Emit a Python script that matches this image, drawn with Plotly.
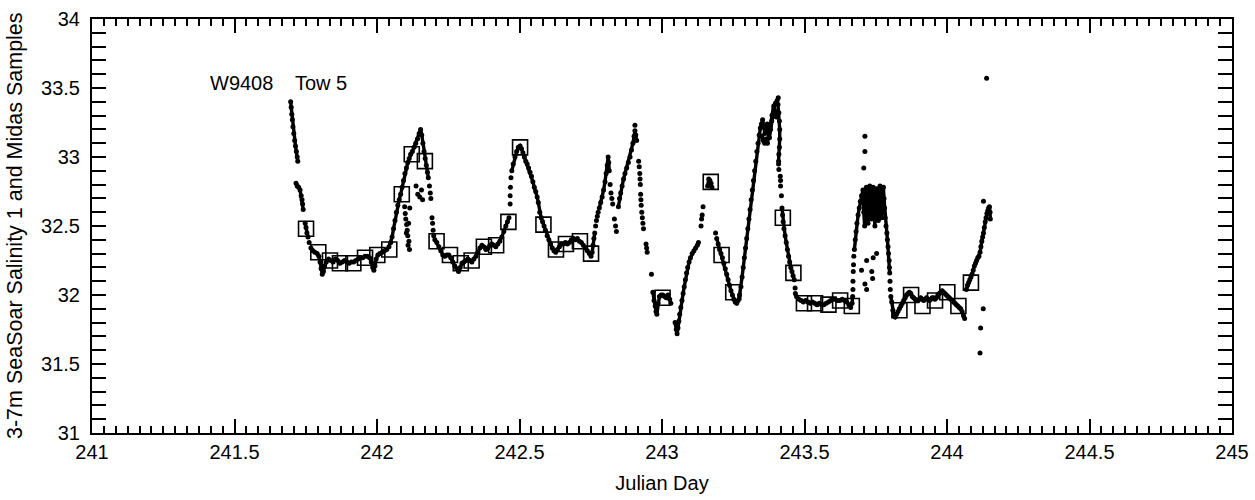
import plotly.graph_objects as go

# ---- SeaSoar salinity (continuous tow segments; None = gap) ----
seasoar_day = [
    241.697, 241.699, 241.701, 241.703, 241.705, 241.708, 241.711, 241.714, 241.717, 241.720, 241.722, None,
    241.716, 241.720, 241.725, 241.730, 241.734, 241.737, 241.739, 241.741, None,
    241.748, 241.751, 241.754, 241.758, None,
    241.768, 241.775, 241.782, 241.790, 241.796, 241.800, 241.804, 241.808, 241.812, 241.816,
    241.822, 241.830, 241.838, 241.846, 241.854, 241.862, 241.870, 241.878, 241.886, 241.894,
    241.902, 241.910, 241.918, 241.926, 241.934, 241.942, 241.950, 241.958, 241.966, 241.974,
    241.980, 241.985, 241.989, 241.993, 241.997, 242.003, 242.010, 242.018, 242.026, 242.034,
    242.042, 242.048, 242.053, 242.058, 242.063, 242.068, 242.073, 242.078, 242.083, 242.088,
    242.093, 242.098, 242.103, 242.108, 242.113, 242.118, 242.124, 242.130, 242.136, 242.142,
    242.148, 242.153, 242.157, 242.161, 242.165, 242.169, 242.173, 242.177, 242.180, None,
    242.203, 242.210, 242.217, 242.224, 242.231, 242.238, 242.245, 242.252, 242.259, 242.266,
    242.273, 242.280, 242.286, 242.292, 242.298, 242.305, 242.312, 242.319, 242.326, 242.333,
    242.340, 242.347, 242.354, 242.361, 242.368, 242.375, 242.382, 242.389, 242.396, 242.403,
    242.410, 242.417, 242.424, 242.431, 242.438, 242.445, 242.452, 242.458, 242.463, None,
    242.473, 242.478, 242.484, 242.490, 242.496, 242.502, 242.507, 242.512, 242.517, 242.522,
    242.527, 242.532, 242.537, 242.542, 242.547, 242.552, 242.557, 242.562, 242.566, 242.571,
    242.576, 242.581, 242.586, 242.591, 242.597, 242.603, 242.609, 242.615, 242.621, 242.627,
    242.633, 242.640, 242.647, 242.654, 242.661, 242.668, 242.675, 242.682, 242.689, 242.696,
    242.703, 242.710, 242.717, 242.724, 242.731, 242.738, 242.745, 242.751, 242.755, 242.758,
    242.761, 242.764, None,
    242.780, 242.785, 242.790, 242.795, 242.800, 242.804, 242.808, 242.811, 242.813, 242.815, None,
    242.847, 242.851, 242.855, 242.860, 242.865, 242.870, 242.876, 242.882, 242.888, 242.893,
    242.898, 242.902, 242.905, 242.908, 242.911, None,
    242.968, 242.972, 242.976, 242.979, 242.982, 242.986, 242.991, 242.997, 243.003, 243.009,
    243.015, 243.021, 243.027, 243.031, None,
    243.046, 243.050, 243.053, 243.056, 243.059, 243.062, 243.066, 243.070, 243.074, 243.078,
    243.082, 243.086, 243.090, 243.095, 243.100, 243.106, 243.112, 243.118, 243.124, 243.128, None,
    243.160, 243.164, 243.168, 243.172, 243.175, None,
    243.192, 243.197, 243.202, 243.207, 243.212, 243.217, 243.222, 243.227, 243.232, 243.237,
    243.242, 243.247, 243.252, 243.257, 243.262, 243.267, 243.272, 243.277, 243.281, 243.285,
    243.289, 243.293, 243.297, 243.301, 243.305, 243.309, 243.313, 243.317, 243.321, 243.325,
    243.329, 243.333, 243.337, 243.341, 243.345, 243.349, 243.353, 243.357, 243.361, 243.365,
    243.369, 243.373, 243.377, 243.381, 243.385, 243.389, 243.393, 243.397, 243.401, None,
    243.350, 243.355, 243.360, 243.365, 243.370, 243.375, 243.380, 243.386, 243.392, 243.398, 243.404, None,
    243.407, 243.410, 243.412, 243.413, 243.413, 243.412, 243.410, 243.409, None,
    243.421, 243.423, 243.425, 243.428, 243.432, 243.436, 243.440, 243.444, 243.448, 243.452,
    243.456, 243.460, 243.464, None,
    243.472, 243.480, 243.488, 243.496, 243.504, 243.512, 243.520, 243.528, 243.536, 243.544,
    243.552, 243.560, 243.568, 243.576, 243.584, 243.592, 243.600, 243.608, 243.616, 243.624,
    243.632, 243.640, 243.648, 243.656, 243.662, 243.667, 243.669, None,
    243.675, 243.678, 243.681, 243.684, 243.688, 243.692, 243.696, 243.700, 243.705, 243.708,
    243.711, 243.714, 243.717, 243.720, 243.723, 243.726, 243.729, 243.732, 243.735, 243.738,
    243.741, 243.744, 243.747, 243.750, 243.753, 243.756, 243.759, 243.762, 243.765, 243.768,
    243.771, 243.774, 243.777, 243.779, 243.781, 243.783, 243.786, 243.789, 243.791, 243.793,
    243.795, 243.797, 243.798, 243.799, None,
    243.803, 243.806, 243.810, 243.814, 243.818, 243.823, 243.828, 243.833, 243.838, 243.843,
    243.848, 243.853, 243.858, 243.863, 243.868, 243.873, 243.878, 243.883, 243.888, 243.893,
    243.898, 243.903, 243.908, 243.913, 243.918, 243.923, 243.928, 243.933, 243.938, 243.943,
    243.948, 243.953, 243.958, 243.963, 243.968, 243.973, 243.978, 243.983, 243.988, 243.993,
    243.998, 244.003, 244.008, 244.013, 244.018, 244.023, 244.028, 244.033, 244.038, 244.043,
    244.048, 244.053, 244.058, 244.062, None,
    244.068, 244.072, 244.076, 244.080, 244.084, 244.088, 244.092, 244.096, 244.100, 244.104,
    244.108, 244.112, 244.116, 244.119, 244.122, 244.125, 244.128, 244.131, 244.134, 244.137,
    244.140, 244.143, 244.146, 244.149, 244.151, 244.152,
]
seasoar_sal = [
    33.40, 33.36, 33.31, 33.27, 33.22, 33.17, 33.12, 33.08, 33.04, 33.00, 32.97, None,
    32.81, 32.79, 32.78, 32.76, 32.72, 32.69, 32.66, 32.62, None,
    32.52, 32.49, 32.45, 32.42, None,
    32.34, 32.32, 32.31, 32.30, 32.28, 32.24, 32.19, 32.15, 32.17, 32.21,
    32.24, 32.26, 32.25, 32.24, 32.26, 32.25, 32.23, 32.24, 32.25, 32.24,
    32.23, 32.24, 32.24, 32.25, 32.26, 32.27, 32.27, 32.28, 32.28, 32.27,
    32.24, 32.20, 32.18, 32.21, 32.26, 32.29, 32.30, 32.31, 32.32, 32.33,
    32.35, 32.38, 32.42, 32.48, 32.54, 32.60, 32.65, 32.69, 32.73, 32.78,
    32.83, 32.88, 32.92, 32.96, 32.99, 33.02, 33.04, 33.07, 33.10, 33.13,
    33.17, 33.20, 33.16, 33.10, 33.04, 32.99, 32.94, 32.89, 32.85, None,
    32.40, 32.38, 32.35, 32.32, 32.29, 32.28, 32.29, 32.29, 32.27, 32.24,
    32.21, 32.19, 32.17, 32.20, 32.23, 32.24, 32.25, 32.26, 32.25, 32.24,
    32.26, 32.28, 32.31, 32.34, 32.36, 32.35, 32.33, 32.34, 32.36, 32.37,
    32.36, 32.35, 32.37, 32.39, 32.42, 32.46, 32.50, 32.53, 32.56, None,
    32.90, 32.95, 33.00, 33.04, 33.07, 33.08, 33.06, 33.03, 33.00, 32.97,
    32.95, 32.92, 32.89, 32.86, 32.82, 32.78, 32.75, 32.71, 32.67, 32.60,
    32.56, 32.53, 32.50, 32.47, 32.43, 32.40, 32.37, 32.34, 32.32, 32.31,
    32.33, 32.35, 32.37, 32.37, 32.38, 32.37, 32.38, 32.40, 32.41, 32.40,
    32.41, 32.39, 32.38, 32.36, 32.34, 32.32, 32.30, 32.28, 32.31, 32.36,
    32.41, 32.45, None,
    32.63, 32.67, 32.71, 32.76, 32.82, 32.88, 32.94, 33.00, 32.96, 32.90, None,
    32.64, 32.70, 32.74, 32.79, 32.84, 32.88, 32.92, 32.96, 33.00, 33.05,
    33.10, 33.15, 33.19, 33.16, 33.12, None,
    32.02, 31.96, 31.92, 31.88, 31.86, 31.94, 31.99, 32.00, 32.00, 31.99,
    31.98, 32.00, 31.97, 31.94, None,
    31.80, 31.75, 31.72, 31.76, 31.81, 31.86, 31.91, 31.96, 32.01, 32.06,
    32.11, 32.16, 32.20, 32.24, 32.27, 32.30, 32.32, 32.34, 32.36, 32.38, None,
    32.79, 32.84, 32.83, 32.81, 32.78, None,
    32.41, 32.37, 32.33, 32.30, 32.27, 32.23, 32.19, 32.15, 32.11, 32.07,
    32.03, 32.00, 31.97, 31.95, 31.94, 31.96, 32.00, 32.06, 32.13, 32.20,
    32.27, 32.34, 32.41, 32.48, 32.55, 32.62, 32.69, 32.76, 32.83, 32.90,
    32.97, 33.04, 33.10, 33.16, 33.21, 33.24, 33.27, 33.22, 33.17, 33.20,
    33.24, 33.19, 33.14, 33.20, 33.26, 33.31, 33.35, 33.33, 33.29, None,
    33.15, 33.12, 33.10, 33.13, 33.10, 33.18, 33.22, 33.30, 33.37, 33.39, 33.41, None,
    33.38, 33.32, 33.26, 33.20, 33.13, 33.07, 33.02, 32.97, None,
    32.63, 32.58, 32.53, 32.48, 32.43, 32.38, 32.33, 32.28, 32.24, 32.20,
    32.17, 32.14, 32.11, None,
    31.99, 31.97, 31.96, 31.95, 31.96, 31.95, 31.94, 31.95, 31.94, 31.93,
    31.94, 31.93, 31.93, 31.94, 31.95, 31.96, 31.97, 31.97, 31.96, 31.96,
    31.97, 31.96, 31.95, 31.93, 31.91, 31.94, 31.99, None,
    32.33, 32.40, 32.46, 32.52, 32.58, 32.63, 32.68, 32.72, 32.76, 32.60,
    32.50, 32.68, 32.78, 32.62, 32.52, 32.70, 32.79, 32.64, 32.55, 32.72,
    32.78, 32.60, 32.50, 32.66, 32.77, 32.63, 32.54, 32.70, 32.79, 32.66,
    32.56, 32.72, 32.78, 32.70, 32.63, 32.56, 32.50, 32.45, 32.40, 32.35,
    32.30, 32.25, 32.20, 32.16, None,
    31.99, 31.95, 31.89, 31.85, 31.84, 31.86, 31.88, 31.90, 31.92, 31.94,
    31.96, 31.98, 32.00, 32.01, 32.02, 32.01, 31.99, 31.98, 31.97, 31.96,
    31.96, 31.97, 31.98, 31.97, 31.96, 31.97, 31.98, 31.97, 31.96, 31.97,
    31.98, 31.98, 31.97, 31.98, 32.00, 32.01, 32.02, 32.03, 32.02, 32.01,
    32.00, 31.99, 31.98, 31.97, 31.96, 31.95, 31.94, 31.93, 31.92, 31.91,
    31.90, 31.88, 31.85, 31.83, None,
    32.04, 32.07, 32.09, 32.11, 32.13, 32.15, 32.18, 32.21, 32.23, 32.25,
    32.27, 32.28, 32.31, 32.35, 32.39, 32.42, 32.45, 32.49, 32.53, 32.56,
    32.59, 32.61, 32.63, 32.64, 32.60, 32.55,
]

# ---- Isolated SeaSoar samples (sparse dots / outliers) ----
isolated_day = [
    241.762,
    242.184, 242.187, 242.189, 242.193, 242.195, 242.197, 242.199,
    242.097, 242.099, 242.101, 242.104, 242.106, 242.108, 242.112, 242.109, 242.114, 242.103, 242.111,
    242.137, 242.143, 242.150, 242.156, 242.160, 242.115,
    242.467, 242.467, 242.468, 242.470,
    242.767, 242.770, 242.773, 242.776,
    242.818, 242.821, 242.824, 242.827, 242.833, 242.837, 242.840,
    242.905,
    242.918, 242.920, 242.922, 242.923, 242.924, 242.925, 242.926, 242.927, 242.929, 242.931,
    242.933, 242.935, 242.944, 242.946, 242.948, 242.963,
    243.137, 243.139, 243.141, 243.144, 243.188,
    243.409, 243.410, 243.415, 243.416, 243.416, 243.419, 243.408,
    243.467, 243.468,
    243.670, 243.670, 243.671, 243.672, 243.673,
    243.718, 243.741, 243.753, 243.700, 243.736, 243.739, 243.712, 243.718,
    243.712, 243.712, 243.708,
    243.800, 243.801,
    244.128, 244.139, 244.127, 244.118, 244.116,
]
isolated_sal = [
    32.38,
    32.79, 32.74, 32.70, 32.56, 32.52, 32.47, 32.43,
    32.64, 32.59, 32.55, 32.51, 32.47, 32.43, 32.39, 32.36, 32.33, 32.45, 32.52,
    32.79, 32.73, 32.71, 32.76, 32.69, 32.63,
    32.66, 32.72, 32.78, 32.85,
    32.50, 32.54, 32.57, 32.60,
    32.80, 32.74, 32.70, 32.66, 32.55, 32.50, 32.46,
    33.23,
    32.97, 32.93, 32.88, 32.84, 32.80, 32.73, 32.69, 32.65, 32.60, 32.56,
    32.52, 32.48, 32.37, 32.34, 32.31, 32.15,
    32.50, 32.55, 32.58, 32.64, 32.45,
    32.95, 32.91, 32.86, 32.83, 32.79, 32.72, 33.43,
    32.05, 32.01,
    32.04, 32.10, 32.17, 32.22, 32.28,
    32.25, 32.27, 32.30, 32.18, 32.17, 32.12, 32.08, 32.04,
    33.15, 33.04, 32.92,
    32.10, 32.04,
    32.68, 33.57, 31.90, 31.76, 31.58,
]

# ---- Midas samples (open squares) ----
midas_day = [
    241.751, 241.794, 241.835, 241.870, 241.917, 241.958, 242.001, 242.043, 242.087, 242.122,
    242.168, 242.209, 242.256, 242.294, 242.332, 242.375, 242.418, 242.461, 242.502, 242.584,
    242.628, 242.663, 242.712, 242.751, 243.002, 243.171, 243.209, 243.250, 243.424, 243.461,
    243.498, 243.537, 243.584, 243.625, 243.666, 243.833, 243.874, 243.914, 243.958, 244.001,
    244.040, 244.084,
]
midas_sal = [
    32.48, 32.31, 32.25, 32.23, 32.23, 32.27, 32.29, 32.33, 32.73, 33.02,
    32.97, 32.39, 32.29, 32.23, 32.25, 32.35, 32.36, 32.53, 33.07, 32.51,
    32.33, 32.37, 32.39, 32.30, 31.98, 32.82, 32.29, 32.02, 32.56, 32.16,
    31.94, 31.94, 31.93, 31.96, 31.92, 31.89, 32.00, 31.92, 31.96, 32.02,
    31.92, 32.09,
]

x_range = [241, 245]
y_range = [31, 34]
x_major_step = 0.5
x_hour_step = 1 / 24
y_major_step = 0.5
y_minor_step = 0.1

FONT = "Liberation Sans, Arial, Helvetica, sans-serif"

fig = go.Figure()
fig.add_trace(go.Scatter(
    x=seasoar_day, y=seasoar_sal, mode="lines+markers",
    line=dict(color="black", width=3.4),
    marker=dict(color="black", size=5),
    connectgaps=False, hoverinfo="skip",
))
fig.add_trace(go.Scatter(
    x=isolated_day, y=isolated_sal, mode="markers",
    marker=dict(color="black", size=5),
    hoverinfo="skip",
))
fig.add_trace(go.Scatter(
    x=midas_day, y=midas_sal, mode="markers",
    marker=dict(symbol="square-open", size=15, color="black", line=dict(width=1.6, color="black")),
    hoverinfo="skip",
))
# invisible trace that activates the hourly tick axis
fig.add_trace(go.Scatter(
    x=[x_range[0]], y=[y_range[0]], xaxis="x2", yaxis="y", mode="markers",
    marker=dict(opacity=0), hoverinfo="skip",
))

fig.add_annotation(x=241.407, y=33.535, text="W9408", showarrow=False,
                   xanchor="left", yanchor="middle", font=dict(family=FONT, size=20, color="black"))
fig.add_annotation(x=241.705, y=33.535, text="Tow 5", showarrow=False,
                   xanchor="left", yanchor="middle", font=dict(family=FONT, size=20, color="black"))
# y-axis title placed as paper annotation (further left than plotly's standoff allows)
fig.add_annotation(x=-0.0675, y=0.5, xref="paper", yref="paper", textangle=-90,
                   text="3-7m SeaSoar Salinity 1 and Midas Samples", showarrow=False,
                   xanchor="center", yanchor="middle",
                   font=dict(family=FONT, size=21.5, color="black"))

fig.update_layout(
    xaxis=dict(
        range=x_range, dtick=x_major_step, tick0=x_range[0],
        showline=True, linecolor="black", linewidth=2, mirror="allticks",
        ticks="inside", ticklen=14, tickwidth=2, tickcolor="black",
        showgrid=False, zeroline=False,
        tickfont=dict(family=FONT, size=20, color="black"),
        title=dict(text="Julian Day", font=dict(family=FONT, size=20, color="black"), standoff=14),
    ),
    xaxis2=dict(
        range=x_range, dtick=x_hour_step, tick0=x_range[0], overlaying="x", side="bottom",
        showticklabels=False, showline=False, mirror="allticks",
        ticks="inside", ticklen=7, tickwidth=1.8, tickcolor="black",
        showgrid=False, zeroline=False,
    ),
    yaxis=dict(
        range=y_range, dtick=y_major_step, tick0=y_range[0],
        showline=True, linecolor="black", linewidth=2, mirror="allticks",
        ticks="inside", ticklen=14, tickwidth=2, tickcolor="black",
        minor=dict(ticks="inside", ticklen=7, dtick=y_minor_step, tickcolor="black", tickwidth=1.8),
        showgrid=False, zeroline=False, ticklabelstandoff=6,
        tickfont=dict(family=FONT, size=20, color="black"),
    ),
    width=1255, height=500,
    margin=dict(l=92, r=23, t=19, b=67, autoexpand=False),
    paper_bgcolor="white", plot_bgcolor="white",
    showlegend=False,
)

fig.write_html("out.html")
